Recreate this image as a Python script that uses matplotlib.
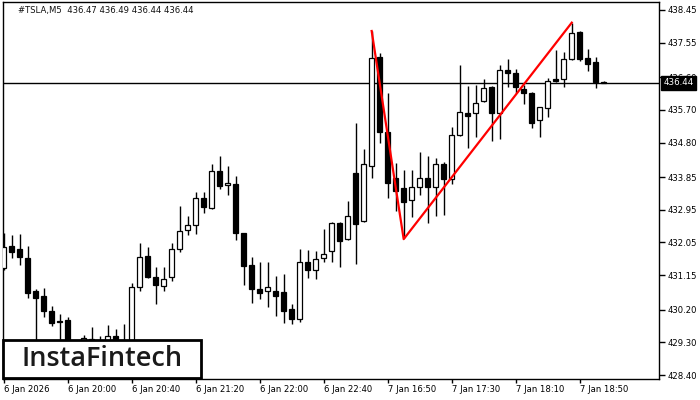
import matplotlib
matplotlib.use("Agg")
import matplotlib.pyplot as plt
from matplotlib.patches import Rectangle

# OHLC data (M5 candles)
opens = [431.35, 431.95, 431.87, 431.62, 430.71, 430.58, 430.16, 429.89, 429.91, 429.14,
         429.31, 429.39, 429.28, 429.25, 429.47, 429.25, 429.23, 430.82, 431.68, 431.10,
         430.85, 431.10, 431.87, 432.39, 432.53, 433.27, 433.00, 434.02, 433.63, 433.66,
         432.31, 431.43, 430.77, 430.71, 430.71, 430.69, 430.22, 429.94, 431.51, 431.29,
         431.62, 431.81, 432.59, 432.14, 433.96, 432.64, 434.15, 437.16, 435.09, 433.82,
         433.55, 433.22, 433.58, 433.82, 433.58, 434.21, 433.80, 435.01, 435.61, 435.60,
         435.94, 436.33, 435.61, 436.80, 436.72, 436.27, 436.16, 435.41, 435.75, 436.55,
         436.56, 437.09, 437.84, 437.12, 437.01, 436.47]
highs = [432.31, 432.26, 432.28, 431.95, 430.77, 430.80, 430.30, 430.08, 430.00, 429.31,
         429.50, 429.72, 429.47, 429.78, 429.67, 429.80, 430.93, 432.03, 431.92, 431.37,
         431.37, 432.03, 433.05, 432.78, 433.44, 433.44, 434.21, 434.43, 434.15, 433.88,
         432.31, 431.65, 431.51, 431.51, 431.13, 431.18, 430.35, 431.87, 431.84, 431.81,
         432.42, 432.61, 432.61, 433.19, 435.34, 434.62, 437.87, 437.27, 436.16, 434.24,
         434.04, 434.04, 434.54, 434.43, 434.37, 434.26, 435.23, 436.94, 436.36, 436.38,
         436.55, 436.36, 436.94, 437.10, 436.83, 436.38, 436.19, 435.78, 436.58, 437.35,
         437.29, 438.10, 437.87, 437.37, 437.15, 436.49]
lows = [431.29, 431.62, 431.43, 430.52, 429.23, 430.00, 429.75, 429.23, 429.03, 428.81,
        429.14, 429.03, 429.09, 429.14, 429.09, 429.09, 429.14, 430.72, 431.07, 430.35,
        430.71, 430.99, 431.79, 432.26, 432.28, 432.86, 432.97, 433.52, 433.36, 432.12,
        430.88, 430.38, 430.49, 430.27, 430.02, 429.83, 429.80, 429.86, 431.07, 431.04,
        431.51, 431.51, 431.37, 432.12, 431.46, 432.61, 433.82, 434.79, 433.27, 432.92,
        432.17, 432.75, 433.36, 432.59, 432.78, 432.81, 433.66, 434.98, 434.66, 434.95,
        435.92, 434.84, 434.90, 436.33, 436.16, 435.86, 435.20, 434.94, 435.49, 436.47,
        436.32, 437.07, 437.05, 436.78, 436.29, 436.44]
closes = [431.92, 431.79, 431.65, 430.66, 430.53, 430.16, 429.83, 429.86, 429.14, 429.03,
          429.42, 429.23, 429.25, 429.47, 429.28, 429.31, 430.82, 431.65, 431.10, 430.88,
          431.04, 431.87, 432.36, 432.53, 433.27, 433.03, 434.02, 433.60, 433.69, 432.31,
          431.40, 430.77, 430.66, 430.82, 430.58, 430.16, 429.94, 431.51, 431.29, 431.59,
          431.73, 432.59, 432.10, 432.78, 432.56, 434.21, 437.13, 435.09, 433.69, 433.47,
          433.16, 433.58, 433.82, 433.58, 434.21, 433.80, 435.01, 435.64, 435.53, 435.89,
          436.30, 435.61, 436.80, 436.72, 436.33, 436.15, 435.35, 435.77, 436.50, 436.50,
          437.10, 437.81, 437.11, 436.97, 436.46, 436.44]

# pattern lines (candle index, price)
pattern_idx = [46, 50, 71]
pattern_price = [437.87, 432.14, 438.10]

last_price = 436.44
title = "#TSLA,M5  436.47 436.49 436.44 436.44"

yticks = [438.45, 437.55, 436.60, 435.70, 434.80, 433.85, 432.95, 432.05, 431.15, 430.20, 429.30, 428.40]
xtick_idx = [0, 8, 16, 24, 32, 40, 48, 56, 64, 72]
xtick_labels = ["6 Jan 2026", "6 Jan 20:00", "6 Jan 20:40", "6 Jan 21:20", "6 Jan 22:00",
                "6 Jan 22:40", "7 Jan 16:50", "7 Jan 17:30", "7 Jan 18:10", "7 Jan 18:50"]

fig = plt.figure(figsize=(7, 4), dpi=100)
ax = fig.add_axes([2.5 / 700, 21 / 400, 656.5 / 700, 376.7 / 400])

n = len(opens)
xs = list(range(n))

# wicks
ax.vlines(xs, lows, highs, color="black", linewidth=1, zorder=2)

# bodies
for i in xs:
    o, c = opens[i], closes[i]
    bottom = min(o, c)
    h = max(abs(c - o), 0.02)
    face = "white" if c > o else "black"
    ax.bar(i, h, bottom=bottom, width=0.62, color=face, edgecolor="black",
           linewidth=0.9, zorder=3)

# current price line
ax.axhline(last_price, color="black", linewidth=1, zorder=1)

# pattern
ax.plot(pattern_idx, pattern_price, color="red", linewidth=1.6, zorder=4)

ax.set_xlim(-0.125, 81.9)
ax.set_ylim(428.29, 438.66)

ax.yaxis.tick_right()
ax.set_yticks(yticks)
ax.set_yticklabels([f"{v:.2f}" for v in yticks])
ax.tick_params(axis="y", direction="out", length=4, width=1, pad=2, labelsize=6.1)

ax.set_xticks(xtick_idx)
ax.set_xticklabels(xtick_labels, ha="left")
ax.tick_params(axis="x", direction="out", length=3, width=1, pad=1.5, labelsize=6.1)
for lbl in ax.get_xticklabels():
    lbl.set_horizontalalignment("left")

for s in ax.spines.values():
    s.set_color("black")
    s.set_linewidth(1)

# price label on the right axis
ax.annotate(f"{last_price:.2f}", xy=(1.0, last_price), xycoords=("axes fraction", "data"),
            xytext=(3, 0), textcoords="offset points", va="center", ha="left",
            fontsize=6.3, color="white",
            bbox=dict(boxstyle="square,pad=0.3", fc="black", ec="black"),
            annotation_clip=False, zorder=10)

fig.text(18 / 700, 1 - 11 / 400, title, fontsize=6.1, va="center", ha="left", color="#111111")

# logo box
fig.patches.append(Rectangle((3 / 700, 22 / 400), 198 / 700, 38 / 400,
                             transform=fig.transFigure, facecolor="white",
                             edgecolor="black", linewidth=2, zorder=5))
fig.text(102 / 700, 41 / 400, "InstaFintech", fontsize=19.5, ha="center", va="center",
         color="#1a1a1a", family="Open Sans", fontweight="semibold", zorder=6)

fig.savefig("out.png", dpi=100)
